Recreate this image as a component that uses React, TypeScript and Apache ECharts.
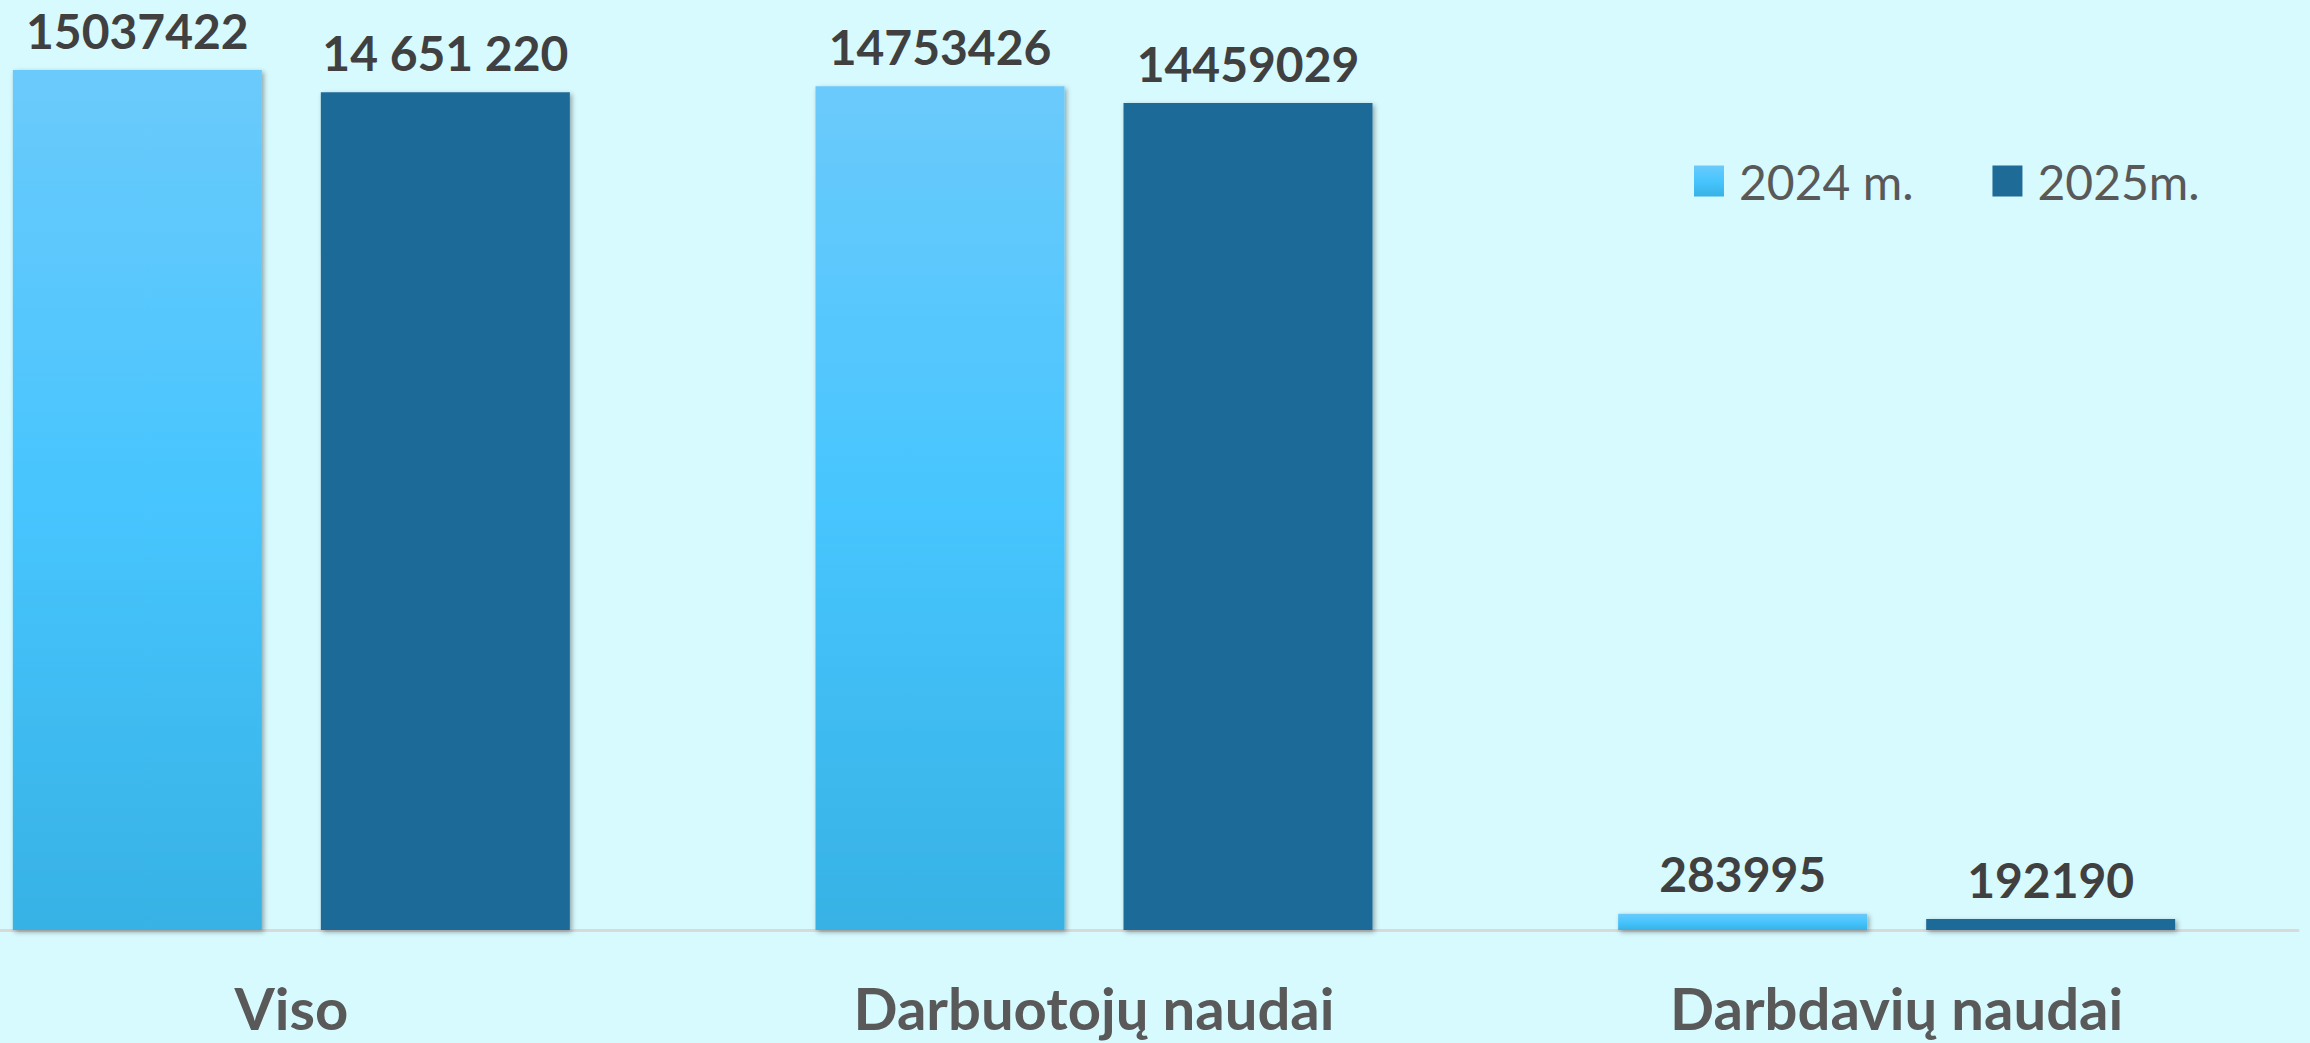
import React, { useEffect, useRef } from "react";
import * as echarts from "echarts";

const categories = ["Viso", "Darbuotojų naudai", "Darbdavių naudai"];
const values2024 = [15037422, 14753426, 283995];
const values2025 = [14651220, 14459029, 192190];
const labels2024 = ["15037422", "14753426", "283995"];
const labels2025 = ["14 651 220", "14459029", "192190"];
const seriesNames = ["2024 m.", "2025m."];

const SHIFT = 110;

export default function App() {
  const ref = useRef<HTMLDivElement>(null);
  useEffect(() => {
    document.body.style.margin = "0";
    document.body.style.background = "#D7FAFE";
    if (!ref.current) return;
    const chart = echarts.init(ref.current, undefined, { renderer: "svg" });
    const shadow = {
      shadowBlur: 5,
      shadowColor: "rgba(0,0,0,0.35)",
      shadowOffsetX: 2,
      shadowOffsetY: 2,
    };
    const valueLabel = (labels: string[]) => ({
      show: true,
      position: "top",
      distance: 16,
      color: "#404040",
      fontFamily: "Lato",
      fontWeight: "bold",
      fontSize: 48,
      formatter: (p: any) => labels[p.dataIndex],
    });
    chart.setOption({
      animation: false,
      backgroundColor: "#D7FAFE",
      legend: {
        left: 1689 + SHIFT,
        top: 152,
        itemWidth: 30,
        itemHeight: 31,
        itemGap: 79,
        icon: "rect",
        data: seriesNames,
        textStyle: {
          fontFamily: "Lato",
          fontSize: 48,
          lineHeight: 48,
          color: "#595959",
          padding: [0, 0, 0, 10],
        },
      },
      grid: { left: 0, right: 12, top: 15, bottom: 113, containLabel: false },
      xAxis: {
        type: "category",
        data: categories,
        axisTick: { show: false },
        axisLine: { show: true, lineStyle: { color: "#D9D9D9", width: 3 } },
        axisLabel: {
          margin: 48,
          color: "#595959",
          fontFamily: "Lato",
          fontWeight: "bold",
          fontSize: 58,
          interval: 0,
        },
      },
      yAxis: {
        type: "value",
        min: 0,
        max: 16000000,
        show: false,
        splitLine: { show: false },
      },
      series: [
        {
          name: seriesNames[0],
          type: "bar",
          data: values2024,
          barWidth: 249,
          barGap: "23.7%",
          itemStyle: {
            color: new echarts.graphic.LinearGradient(0, 0, 0, 1, [
              { offset: 0, color: "#6BCAFB" },
              { offset: 0.5, color: "#47C5FE" },
              { offset: 1, color: "#37B2E5" },
            ]),
            ...shadow,
          },
          label: valueLabel(labels2024),
        },
        {
          name: seriesNames[1],
          type: "bar",
          data: values2025,
          barWidth: 249,
          barGap: "23.7%",
          itemStyle: { color: "#1F6B97", ...shadow },
          label: valueLabel(labels2025),
        },
      ],
    });
    return () => chart.dispose();
  }, []);
  return (
    <div
      ref={ref}
      style={{
        position: "fixed",
        left: -SHIFT,
        top: 0,
        width: 2310 + SHIFT,
        height: 1043,
      }}
    />
  );
}
